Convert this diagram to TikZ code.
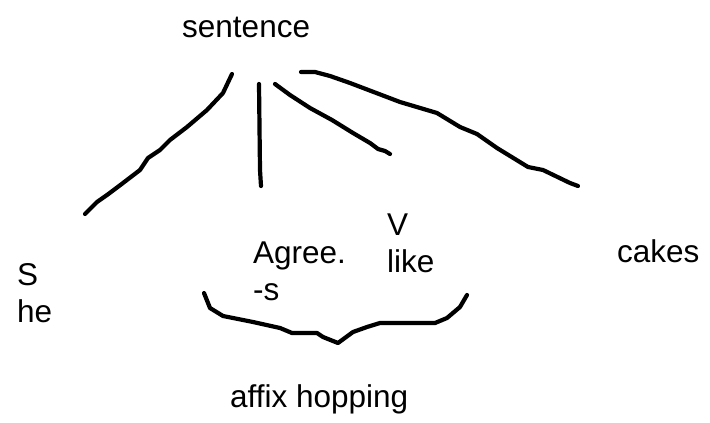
\documentclass[tikz,border=0pt]{standalone}
\usepackage{fontspec}
\setmainfont{Liberation Sans}
\begin{document}
\begin{tikzpicture}[x=1pt,y=-1pt,
  lbl/.style={anchor=base west,inner sep=0pt,font=\fontsize{31.5}{37}\selectfont},
  stroke/.style={line width=4.2pt,line cap=round,line join=round}]
\useasboundingbox (0,0) rectangle (710,423);
\fill[white] (0,0) rectangle (710,423);
% labels
\node[lbl] (sent) at (182,37) {sentence};
\node[lbl] (S) at (17,285) {S};
\node[lbl] (he) at (17,322) {he};
\node[lbl] (agr) at (253,263) {Agree.};
\node[lbl] (s) at (253,300) {-s};
\node[lbl] (V) at (387,235) {V};
\node[lbl] (like) at (387,272) {like};
\node[lbl] (cakes) at (617,262) {cakes};
\node[lbl] (affix) at (230,407) {affix hopping};
% branches
\coordinate (a0) at (232,74);
\coordinate (a1) at (85,214);
\draw[stroke] (a0) -- (223,93) -- (207,110) -- (187,127) -- (170,140) -- (160,150) -- (148,158) -- (140,170) -- (123,183) -- (107,195) -- (97,202) -- (a1);
\coordinate (b0) at (259,84);
\coordinate (b1) at (261,186);
\draw[stroke] (b0) -- (260,170) -- (b1);
\coordinate (c0) at (275,84);
\coordinate (c1) at (390,154);
\draw[stroke] (c0) -- (290,95) -- (310,108) -- (332,120) -- (353,133) -- (370,143) -- (378,149) -- (385,151) -- (c1);
\coordinate (d0) at (301,72);
\coordinate (d1) at (578,186);
\draw[stroke] (d0) -- (315,72) -- (330,76) -- (350,83) -- (400,102) -- (437,113) -- (460,127) -- (477,134) -- (497,148) -- (528,167) -- (543,170) -- (570,183) -- (d1);
% brace
\coordinate (e0) at (204,293);
\coordinate (e1) at (467,295);
\draw[stroke] (e0) -- (210,308) -- (223,316) -- (253,322) -- (280,328) -- (292,333) -- (317,333) -- (323,337) -- (338,343) -- (353,332) -- (367,327) -- (380,323) -- (435,323) -- (447,318) -- (460,307) -- (e1);
\end{tikzpicture}
\end{document}
